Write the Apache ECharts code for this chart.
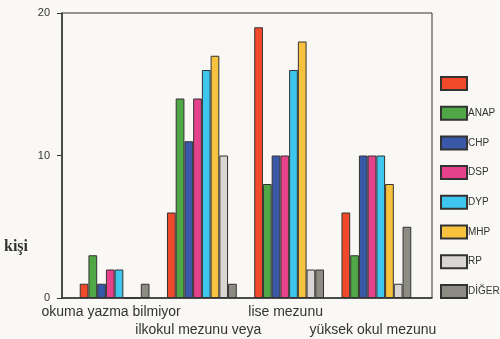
<!DOCTYPE html>
<html><head><meta charset="utf-8">
<script src="https://cdn.jsdelivr.net/npm/echarts@6/dist/echarts.min.js"></script>
<style>html,body{margin:0;padding:0;background:#f9f8f5;}#c{width:500px;height:339px;}</style>
</head><body><div id="c"></div>
<script>
const categories = ['okuma yazma bilmiyor', 'ilkokul mezunu veya', 'lise mezunu', 'yüksek okul mezunu'];
const seriesNames = ['\u00a0', 'ANAP', 'CHP', 'DSP', 'DYP', 'MHP', 'RP', 'DİĞER'];
const colors = ['#f04a2a', '#4fa845', '#3a58a8', '#e6418b', '#3ec6ee', '#f7c23e', '#d9d5d2', '#8c8c84'];
const vBlank = [1, 6, 19, 6];
const vANAP = [3, 14, 8, 3];
const vCHP = [1, 11, 10, 10];
const vDSP = [2, 14, 10, 10];
const vDYP = [2, 16, 16, 10];
const vMHP = [0, 17, 18, 8];
const vRP = [0, 10, 2, 1];
const vDIGER = [1, 1, 2, 5];
const yTicks = [0, 10, 20];
const yTitle = 'kişi';
const allValues = [vBlank, vANAP, vCHP, vDSP, vDYP, vMHP, vRP, vDIGER];

const chart = echarts.init(document.getElementById('c'));
chart.setOption({
  backgroundColor: '#f9f8f5',
  animation: false,
  grid: [
    {left: 71, right: 80, top: 13, bottom: 41},
    {left: 62, right: 68, top: 13, bottom: 41, show: true, borderColor: '#333', borderWidth: 1, backgroundColor: 'transparent'}
  ],
  graphic: [{type: 'text', left: 4, top: 239, style: {text: yTitle, font: 'bold 16px "Liberation Serif", "Times New Roman", serif', fill: '#333'}}],
  legend: {
    orient: 'vertical', left: 440, top: 76, padding: 0, itemWidth: 26, itemHeight: 13, itemGap: 14.7,
    icon: 'rect',
    textStyle: {fontFamily: 'Liberation Sans, Arial', fontSize: 10, color: '#333', padding: [0, 0, 0, -4]},
    data: seriesNames
  },
  xAxis: [{
    gridIndex: 0, type: 'category', data: categories,
    axisLine: {show: false},
    axisTick: {show: false},
    axisLabel: {
      interval: 0, fontFamily: 'Liberation Sans, Arial', fontSize: 14, color: '#333', lineHeight: 18, margin: 5,
      padding: [0, 7, 0, 0],
      formatter: (v, i) => i % 2 ? '\n' + v : v
    }
  }, {
    gridIndex: 1, type: 'value', min: 0, max: 1,
    axisLine: {show: true, lineStyle: {color: '#333', width: 1.5}},
    axisTick: {show: false}, axisLabel: {show: false}, splitLine: {show: false}
  }],
  yAxis: [{
    gridIndex: 0, type: 'value', min: 0, max: 20, interval: 10, show: false
  }, {
    gridIndex: 1, type: 'value', min: 0, max: 20, interval: 10,
    axisLine: {show: true, lineStyle: {color: '#333', width: 1.5}},
    axisTick: {show: true, length: 5, lineStyle: {color: '#333'}},
    splitLine: {show: false},
    axisLabel: {fontFamily: 'Liberation Sans, Arial', fontSize: 11, color: '#333', margin: 12,
      formatter: v => yTicks.includes(v) ? String(v) : ''}
  }],
  series: seriesNames.map((n, i) => ({
    name: n, type: 'bar', data: allValues[i], xAxisIndex: 0, yAxisIndex: 0,
    barCategoryGap: '20%', barGap: '0%',
    itemStyle: {color: colors[i], borderColor: '#333', borderWidth: 1}
  }))
});
</script></body></html>
